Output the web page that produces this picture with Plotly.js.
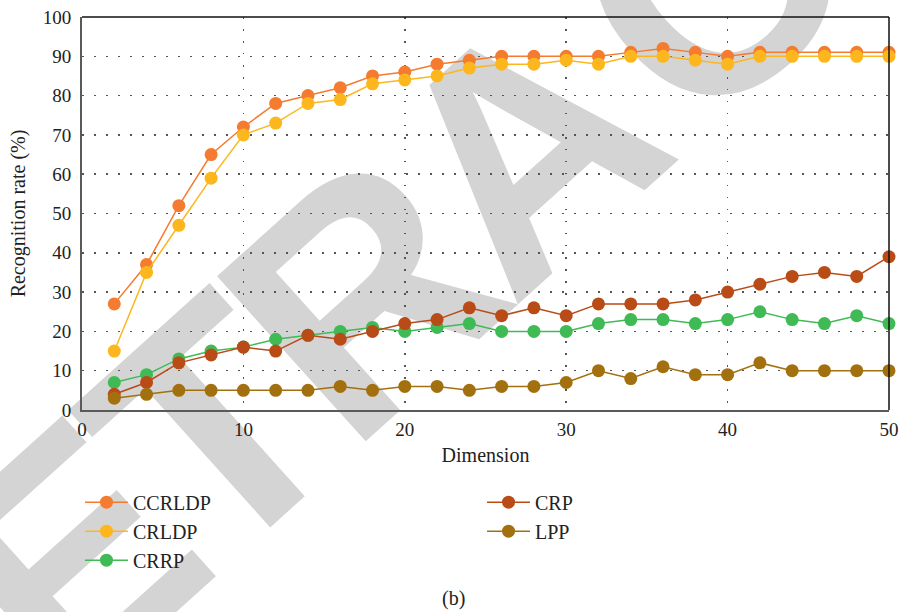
<!DOCTYPE html>
<html>
<head>
<meta charset="utf-8">
<script src="https://cdn.plot.ly/plotly-3.0.1.min.js"></script>
<style>
  html, body { margin: 0; padding: 0; background: #ffffff; }
  #wrap { position: relative; width: 900px; height: 612px; overflow: hidden; }
  #wm { position: absolute; left: 0; top: 0; z-index: 0; }
  #chart { position: absolute; left: 0; top: 0; width: 900px; height: 612px; z-index: 1; }
</style>
</head>
<body>
<div id="wrap">
  <svg id="wm" width="900" height="612" xmlns="http://www.w3.org/2000/svg">
    <text x="-97" y="858" transform="rotate(-42 -97 858)" text-anchor="start"
          font-family="Liberation Sans" font-weight="bold" letter-spacing="-15"
          dx="0 0 0 0 0 30" font-size="323" fill="#d4d4d4">RETRACTED</text>
  </svg>
  <div id="chart"></div>
</div>
<script>
const dimension = [2, 4, 6, 8, 10, 12, 14, 16, 18, 20, 22, 24, 26, 28, 30, 32, 34, 36, 38, 40, 42, 44, 46, 48, 50];
const ccrldp = [27, 37, 52, 65, 72, 78, 80, 82, 85, 86, 88, 89, 90, 90, 90, 90, 91, 92, 91, 90, 91, 91, 91, 91, 91];
const crldp  = [15, 35, 47, 59, 70, 73, 78, 79, 83, 84, 85, 87, 88, 88, 89, 88, 90, 90, 89, 88, 90, 90, 90, 90, 90];
const crrp   = [7, 9, 13, 15, 16, 18, 19, 20, 21, 20, 21, 22, 20, 20, 20, 22, 23, 23, 22, 23, 25, 23, 22, 24, 22];
const crp    = [4, 7, 12, 14, 16, 15, 19, 18, 20, 22, 23, 26, 24, 26, 24, 27, 27, 27, 28, 30, 32, 34, 35, 34, 39];
const lpp    = [3, 4, 5, 5, 5, 5, 5, 6, 5, 6, 6, 5, 6, 6, 7, 10, 8, 11, 9, 9, 12, 10, 10, 10, 10];
const seriesNames = ['CCRLDP', 'CRLDP', 'CRRP', 'CRP', 'LPP'];
const seriesValues = [ccrldp, crldp, crrp, crp, lpp];
const seriesColors = ['#f47b2f', '#fdb71e', '#3fba55', '#b94b17', '#a3700f'];
const seriesLegend = ['legend', 'legend', 'legend', 'legend2', 'legend2'];
const xTicks = [0, 10, 20, 30, 40, 50];
const yTicks = [0, 10, 20, 30, 40, 50, 60, 70, 80, 90, 100];

const serif = 'Liberation Serif';
const textColor = '#222222';

const traces = seriesNames.map((name, i) => ({
  type: 'scatter',
  mode: 'lines+markers',
  name: name,
  x: dimension,
  y: seriesValues[i],
  line: { color: seriesColors[i], width: 1.5 },
  marker: { color: seriesColors[i], size: 13 },
  legend: seriesLegend[i],
  cliponaxis: false
}));

const legendCommon = {
  orientation: 'v',
  bgcolor: 'rgba(0,0,0,0)',
  borderwidth: 0,
  itemwidth: 43,
  font: { family: serif, size: 20, color: textColor },
  xanchor: 'left',
  yanchor: 'top'
};

const layout = {
  width: 900,
  height: 612,
  margin: { l: 82, r: 11, t: 17, b: 202 },
  paper_bgcolor: 'rgba(0,0,0,0)',
  plot_bgcolor: 'rgba(0,0,0,0)',
  showlegend: true,
  font: { family: serif, size: 19, color: textColor },
  xaxis: {
    range: [0, 50],
    tickvals: xTicks,
    ticktext: xTicks.map(String),
    showline: true,
    linecolor: '#5a5a5a',
    linewidth: 2,
    ticks: 'outside',
    ticklen: 1,
    tickcolor: 'rgba(0,0,0,0)',
    ticklabeloverflow: 'allow',
    showgrid: true,
    gridcolor: '#555',
    gridwidth: 1.5,
    griddash: '1.5px,10.5px',
    zeroline: false,
    tickfont: { family: serif, size: 19, color: textColor },
    title: { text: 'Dimension', font: { family: serif, size: 20, color: textColor }, standoff: 9 }
  },
  yaxis: {
    range: [0, 100],
    tickvals: yTicks,
    ticktext: yTicks.map(String),
    showline: true,
    linecolor: '#5a5a5a',
    linewidth: 2,
    ticks: 'outside',
    ticklen: 5,
    tickcolor: 'rgba(0,0,0,0)',
    showgrid: true,
    gridcolor: '#555',
    gridwidth: 1.5,
    griddash: '1.5px,10.5px',
    zeroline: false,
    tickfont: { family: serif, size: 19, color: textColor },
    title: { text: 'Recognition rate (%)', font: { family: serif, size: 20, color: textColor }, standoff: 12 }
  },
  shapes: [
    { type: 'line', xref: 'paper', yref: 'paper', x0: 0, x1: 1, y0: 1, y1: 1, line: { color: '#111', width: 1.5 } },
    { type: 'line', xref: 'paper', yref: 'paper', x0: 1, x1: 1, y0: 0, y1: 1, line: { color: '#111', width: 1.5 } }
  ],
  legend: Object.assign({}, legendCommon, { x: -0.0025, y: -0.185 }),
  legend2: Object.assign({}, legendCommon, { x: 0.4957, y: -0.185 }),
  annotations: [
    { text: '(b)', xref: 'paper', yref: 'paper', x: (453 - 82) / 807, y: (410 - 598) / 393,
      xanchor: 'center', yanchor: 'middle', showarrow: false,
      font: { family: serif, size: 20, color: textColor } }
  ]
};

Plotly.newPlot('chart', traces, layout, { displayModeBar: false, staticPlot: true });
</script>
</body>
</html>
